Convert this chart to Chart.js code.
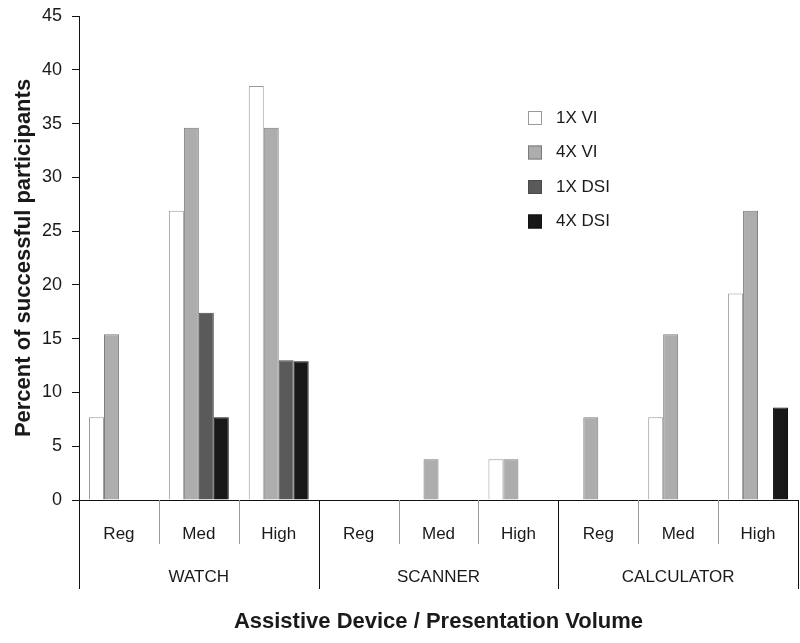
<!DOCTYPE html>
<html>
<head>
<meta charset="utf-8">
<script src="https://cdn.jsdelivr.net/npm/chart.js@4/dist/chart.umd.min.js"></script>
<style>
  html, body { margin: 0; padding: 0; background: #fff; }
  #wrap { width: 800px; height: 643px; position: relative; }
</style>
</head>
<body>
<div id="wrap"><canvas id="c" width="800" height="643"></canvas></div>
<script>
// ---- data ----
const levels = ['Reg', 'Med', 'High', 'Reg', 'Med', 'High', 'Reg', 'Med', 'High'];
const devices = ['WATCH', 'SCANNER', 'CALCULATOR'];
const seriesNames = ['1X VI', '4X VI', '1X DSI', '4X DSI'];
const vi1x  = [7.7, 26.9, 38.5, 0, 0, 3.8, 0, 7.7, 19.2];
const vi4x  = [15.4, 34.6, 34.6, 0, 3.8, 3.8, 7.7, 15.4, 26.9];
const dsi1x = [0, 17.4, 13.0, 0, 0, 0, 0, 0, 0];
const dsi4x = [0, 7.7, 12.9, 0, 0, 0, 0, 0, 8.6];
const yTicks = [0, 5, 10, 15, 20, 25, 30, 35, 40, 45];

const fills = ['#ffffff', '#adadad', '#5a5a5a', '#181818'];
const borders = ['#9a9a9a', '#7a7a7a', '#4a4a4a', '#111111'];
const seriesData = [vi1x, vi4x, dsi1x, dsi4x];
const FONT = "'Liberation Sans', Arial, sans-serif";
const TXT = '#1a1a1a';

const lowerAxisPlugin = {
  id: 'lowerAxis',
  afterDraw(chart) {
    const ctx = chart.ctx;
    const x = chart.scales.x;
    const area = chart.chartArea;
    const y0 = area.bottom;
    const n = levels.length;
    const bounds = [area.left];
    for (let i = 0; i < n - 1; i++) {
      bounds.push((x.getPixelForValue(i) + x.getPixelForValue(i + 1)) / 2);
    }
    bounds.push(area.right);
    ctx.save();
    ctx.lineWidth = 1;
    bounds.forEach((bx, i) => {
      const major = i % 3 === 0;
      ctx.strokeStyle = major ? '#111' : '#9a9a9a';
      ctx.beginPath();
      const px = Math.round(bx) + 0.5;
      ctx.moveTo(px, y0);
      ctx.lineTo(px, major ? y0 + 89 : y0 + 44);
      ctx.stroke();
    });
    ctx.fillStyle = TXT;
    ctx.font = '17px ' + FONT;
    ctx.textAlign = 'center';
    ctx.textBaseline = 'middle';
    devices.forEach((d, g) => {
      const cx = (bounds[g * 3] + bounds[g * 3 + 3]) / 2;
      ctx.fillText(d, cx, y0 + 77);
    });
    ctx.restore();
  }
};

const legendPlugin = {
  id: 'customLegend',
  afterDraw(chart) {
    const ctx = chart.ctx;
    ctx.save();
    ctx.font = '17px ' + FONT;
    ctx.textBaseline = 'middle';
    ctx.textAlign = 'left';
    chart.data.datasets.forEach((ds, i) => {
      const cy = 118 + i * 34.5;
      ctx.fillStyle = ds.backgroundColor;
      ctx.fillRect(528, cy - 7, 14, 14);
      ctx.strokeStyle = ds.borderColor;
      ctx.lineWidth = 1;
      ctx.strokeRect(528.5, cy - 6.5, 13, 13);
      ctx.fillStyle = TXT;
      ctx.fillText(ds.label, 556, cy);
    });
    ctx.restore();
  }
};

new Chart(document.getElementById('c'), {
  type: 'bar',
  data: {
    labels: levels,
    datasets: seriesNames.map((name, i) => ({
      label: name,
      data: seriesData[i],
      backgroundColor: fills[i],
      borderColor: borders[i],
      borderWidth: 1,
      categoryPercentage: 0.75,
      barPercentage: 1.0
    }))
  },
  options: {
    responsive: false,
    animation: false,
    layout: { padding: { top: 16, right: 2, left: 0, bottom: 0 } },
    plugins: { legend: { display: false }, tooltip: { enabled: false } },
    scales: {
      x: {
        grid: { display: false },
        border: { display: true, color: '#111', width: 1 },
        ticks: { color: TXT, font: { size: 17, family: FONT }, padding: 16, maxRotation: 0, autoSkip: false },
        title: { display: true, text: 'Assistive Device / Presentation Volume', color: TXT,
                 font: { size: 22, weight: 'bold', family: FONT }, padding: { top: 0, bottom: 8 } },
        afterFit(s) { s.height = 143; s.paddingLeft = 0; s.paddingRight = 0; }
      },
      y: {
        min: 0, max: 45,
        afterBuildTicks(s) { s.ticks = yTicks.map(v => ({ value: v })); },
        grid: { drawOnChartArea: false, drawTicks: true, tickLength: 7, color: '#111' },
        border: { display: true, color: '#111', width: 1 },
        ticks: { color: TXT, font: { size: 18, family: FONT }, padding: 10 },
        title: { display: true, text: 'Percent of successful participants', color: TXT,
                 font: { size: 22, weight: 'bold', family: FONT }, padding: { top: 11, bottom: 0 } },
        afterFit(s) { s.width = 79; s.paddingTop = 0; s.paddingBottom = 0; }
      }
    }
  },
  plugins: [lowerAxisPlugin, legendPlugin]
});
</script>
</body>
</html>
